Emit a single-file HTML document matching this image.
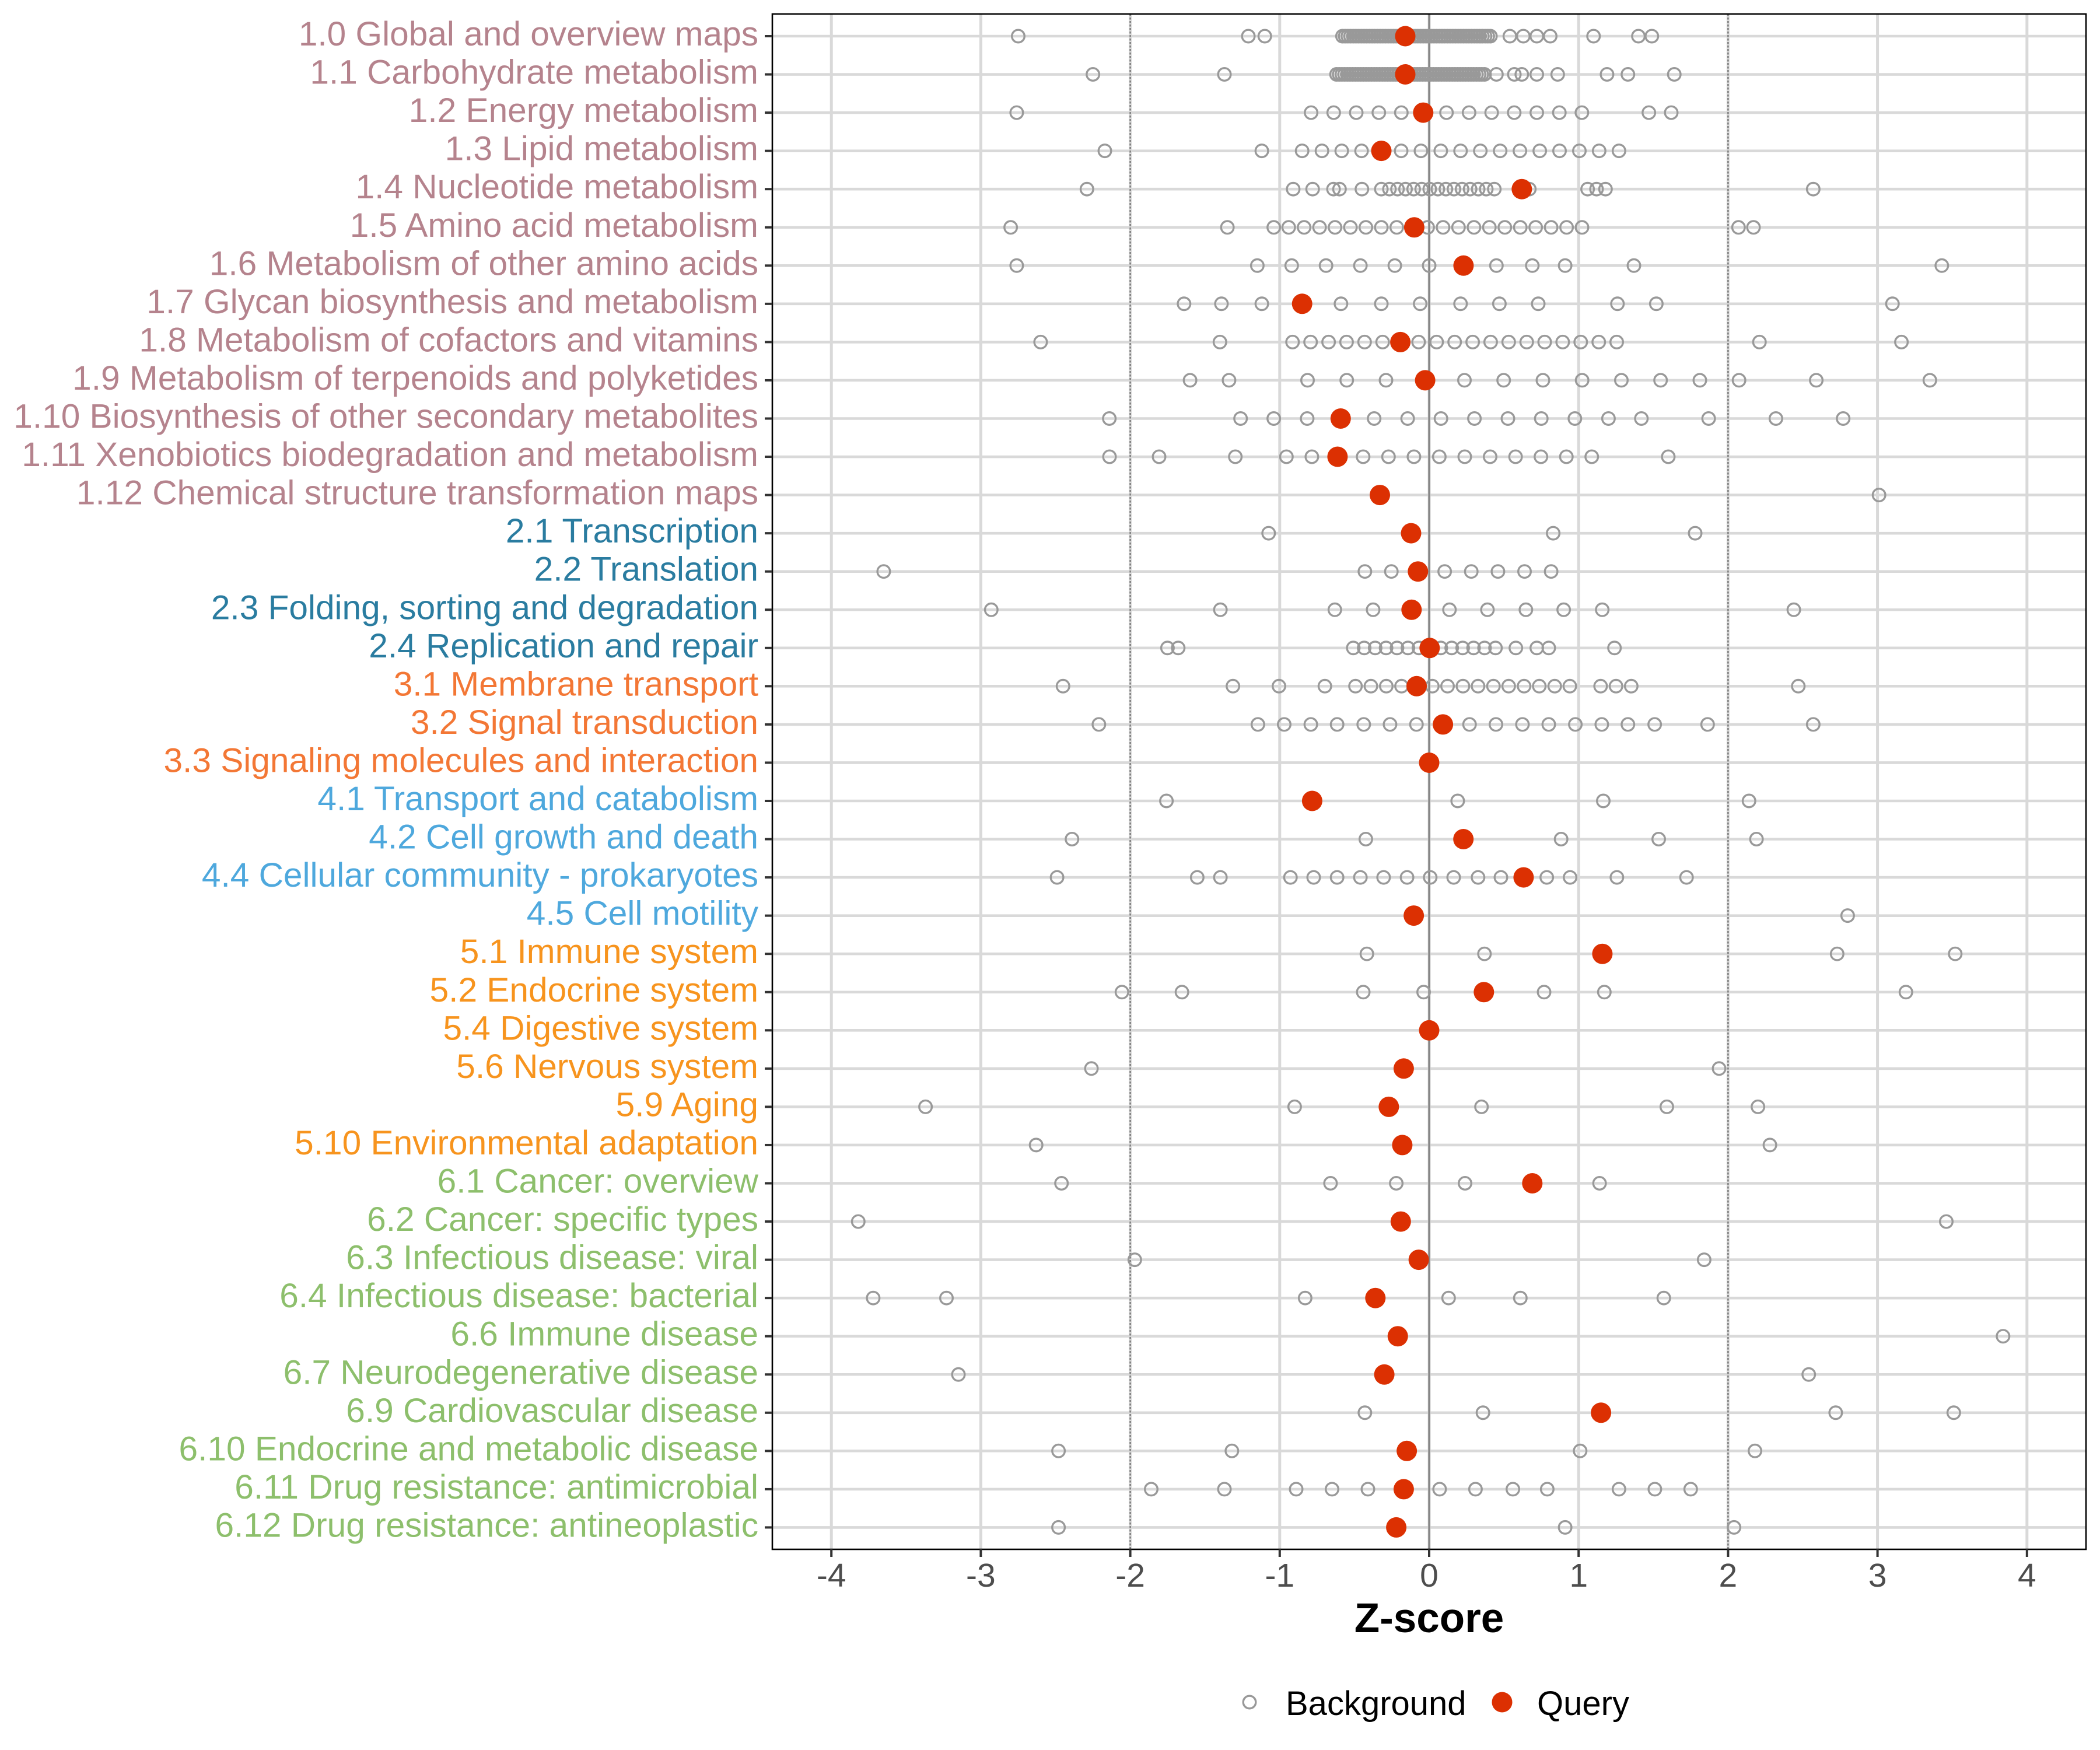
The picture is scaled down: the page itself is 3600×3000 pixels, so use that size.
<!DOCTYPE html>
<html>
<head>
<meta charset="utf-8">
<style>
html,body{margin:0;padding:0;background:#fff;}
svg{display:block;}
.yl{font-family:"Liberation Sans",Arial,sans-serif;font-size:58.6px;text-anchor:end;}
.c1{fill:#B5838D}.c2{fill:#2A7CA0}.c3{fill:#F37735}.c4{fill:#4EA8DD}.c5{fill:#F7941E}.c6{fill:#8DBF6C}
.xt{font-family:"Liberation Sans",Arial,sans-serif;font-size:57px;fill:#4D4D4D;text-anchor:middle;}
</style>
</head>
<body>
<svg id="s" width="3600" height="3000" viewBox="0 0 3600 3000" xmlns="http://www.w3.org/2000/svg">
<rect x="0" y="0" width="3600" height="3000" fill="#fff"/>
<g id="grid"></g>
<g id="pts"></g>
<rect x="1324" y="24" width="2252" height="2632" fill="none" stroke="#000" stroke-width="2.6"/>
<g id="ticks"></g>

<g>
<text class="yl c1" x="1300" y="78">1.0 Global and overview maps</text>
<text class="yl c1" x="1300" y="143.6">1.1 Carbohydrate metabolism</text>
<text class="yl c1" x="1300" y="209.1">1.2 Energy metabolism</text>
<text class="yl c1" x="1300" y="274.7">1.3 Lipid metabolism</text>
<text class="yl c1" x="1300" y="340.2">1.4 Nucleotide metabolism</text>
<text class="yl c1" x="1300" y="405.8">1.5 Amino acid metabolism</text>
<text class="yl c1" x="1300" y="471.3">1.6 Metabolism of other amino acids</text>
<text class="yl c1" x="1300" y="536.9">1.7 Glycan biosynthesis and metabolism</text>
<text class="yl c1" x="1300" y="602.4">1.8 Metabolism of cofactors and vitamins</text>
<text class="yl c1" x="1300" y="668">1.9 Metabolism of terpenoids and polyketides</text>
<text class="yl c1" x="1300" y="733.5">1.10 Biosynthesis of other secondary metabolites</text>
<text class="yl c1" x="1300" y="799.1">1.11 Xenobiotics biodegradation and metabolism</text>
<text class="yl c1" x="1300" y="864.6">1.12 Chemical structure transformation maps</text>
<text class="yl c2" x="1300" y="930.2">2.1 Transcription</text>
<text class="yl c2" x="1300" y="995.7">2.2 Translation</text>
<text class="yl c2" x="1300" y="1061.3">2.3 Folding, sorting and degradation</text>
<text class="yl c2" x="1300" y="1126.8">2.4 Replication and repair</text>
<text class="yl c3" x="1300" y="1192.4">3.1 Membrane transport</text>
<text class="yl c3" x="1300" y="1257.9">3.2 Signal transduction</text>
<text class="yl c3" x="1300" y="1323.5">3.3 Signaling molecules and interaction</text>
<text class="yl c4" x="1300" y="1389">4.1 Transport and catabolism</text>
<text class="yl c4" x="1300" y="1454.6">4.2 Cell growth and death</text>
<text class="yl c4" x="1300" y="1520.1">4.4 Cellular community - prokaryotes</text>
<text class="yl c4" x="1300" y="1585.7">4.5 Cell motility</text>
<text class="yl c5" x="1300" y="1651.2">5.1 Immune system</text>
<text class="yl c5" x="1300" y="1716.8">5.2 Endocrine system</text>
<text class="yl c5" x="1300" y="1782.3">5.4 Digestive system</text>
<text class="yl c5" x="1300" y="1847.9">5.6 Nervous system</text>
<text class="yl c5" x="1300" y="1913.4">5.9 Aging</text>
<text class="yl c5" x="1300" y="1979">5.10 Environmental adaptation</text>
<text class="yl c6" x="1300" y="2044.5">6.1 Cancer: overview</text>
<text class="yl c6" x="1300" y="2110.1">6.2 Cancer: specific types</text>
<text class="yl c6" x="1300" y="2175.6">6.3 Infectious disease: viral</text>
<text class="yl c6" x="1300" y="2241.2">6.4 Infectious disease: bacterial</text>
<text class="yl c6" x="1300" y="2306.7">6.6 Immune disease</text>
<text class="yl c6" x="1300" y="2372.3">6.7 Neurodegenerative disease</text>
<text class="yl c6" x="1300" y="2437.8">6.9 Cardiovascular disease</text>
<text class="yl c6" x="1300" y="2503.4">6.10 Endocrine and metabolic disease</text>
<text class="yl c6" x="1300" y="2568.9">6.11 Drug resistance: antimicrobial</text>
<text class="yl c6" x="1300" y="2634.5">6.12 Drug resistance: antineoplastic</text>
</g>

<g>
<text class="xt" x="1425.2" y="2720">-4</text>
<text class="xt" x="1681.4" y="2720">-3</text>
<text class="xt" x="1937.6" y="2720">-2</text>
<text class="xt" x="2193.8" y="2720">-1</text>
<text class="xt" x="2450" y="2720">0</text>
<text class="xt" x="2706.2" y="2720">1</text>
<text class="xt" x="2962.4" y="2720">2</text>
<text class="xt" x="3218.6" y="2720">3</text>
<text class="xt" x="3474.8" y="2720">4</text>
</g>

<text x="2450" y="2798" text-anchor="middle" font-family="Liberation Sans, Arial, sans-serif" font-weight="bold" font-size="71" fill="#000">Z-score</text>

<circle cx="2142" cy="2918" r="10.8" fill="none" stroke="#999999" stroke-width="3.4"/>
<text x="2204" y="2940" font-family="Liberation Sans, Arial, sans-serif" font-size="58" fill="#000">Background</text>
<circle cx="2575" cy="2918" r="17.5" fill="#DC3002"/>
<text x="2635" y="2940" font-family="Liberation Sans, Arial, sans-serif" font-size="58" fill="#000">Query</text>
</svg>

<script>
(function(){
var NS="http://www.w3.org/2000/svg";
var X0=2450,U=256.2,L=1324,R=3576,T=24,B=2656;
function X(z){return X0+U*z;}
function Y(i){return 62+65.55*i;}
function el(tag,attrs,parent){var e=document.createElementNS(NS,tag);for(var k in attrs)e.setAttribute(k,attrs[k]);parent.appendChild(e);return e;}
function seq(a,st,n){var r=[];for(var k=0;k<n;k++)r.push(+(a+k*st).toFixed(4));return r;}
function rng(a,b,st){var r=[];for(var v=a;v<=b+1e-9;v+=st)r.push(v);return r;}
var g=document.getElementById('grid'),p=document.getElementById('pts'),tk=document.getElementById('ticks');
var i;
for(i=0;i<40;i++){el('line',{x1:L,x2:R,y1:Y(i),y2:Y(i),stroke:'#D9D9D9','stroke-width':4.6},g);}
for(var k=-4;k<=4;k++){el('line',{x1:X(k),x2:X(k),y1:T,y2:B,stroke:'#D9D9D9','stroke-width':5},g);}
el('line',{x1:X(-2),x2:X(-2),y1:T,y2:B,stroke:'#7F7F7F','stroke-width':2.6,'stroke-dasharray':'3.5 2.5'},g);
el('line',{x1:X(2),x2:X(2),y1:T,y2:B,stroke:'#7F7F7F','stroke-width':2.6,'stroke-dasharray':'3.5 2.5'},g);
el('line',{x1:X(0),x2:X(0),y1:T,y2:B,stroke:'#858585','stroke-width':3.2},g);
for(i=0;i<40;i++){el('line',{x1:1311,x2:L,y1:Y(i),y2:Y(i),stroke:'#333','stroke-width':4},tk);}
for(k=-4;k<=4;k++){el('line',{x1:X(k),x2:X(k),y1:B,y2:2669,stroke:'#333','stroke-width':4},tk);}

var bg=[
[-2.75,-1.21,-1.10].concat(rng(-0.58,0.41,0.018),[0.54,0.63,0.72,0.81,1.10,1.40,1.49]),
[-2.25,-1.37].concat(rng(-0.62,0.38,0.018),[0.45,0.57,0.62,0.72,0.86,1.19,1.33,1.64]),
[-2.76].concat(seq(-0.79,0.151,13),[1.47,1.62]),
[-2.17,-1.12].concat(seq(-0.85,0.1325,17)),
[-2.29,-0.91,-0.78,-0.64,-0.60,-0.45].concat(seq(-0.32,0.054,15),[0.67,1.06,1.12,1.18,2.57]),
[-2.80,-1.35,-1.04].concat(seq(-0.94,0.1033,20),[2.07,2.17]),
[-2.76,-1.15,-0.92,-0.69,-0.46,-0.23,0,0.45,0.69,0.91,1.37,3.43],
[-1.64,-1.39,-1.12,-0.59,-0.32,-0.06,0.21,0.47,0.73,1.26,1.52,3.10],
[-2.60,-1.40].concat(seq(-0.914,0.1205,19),[2.21,3.16]),
[-1.60,-1.339].concat(seq(-0.814,0.2625,12),[2.59,3.35]),
[-2.14,-1.262,-1.04,-0.816,-0.592,-0.368,-0.144,0.079,0.303,0.527,0.75,0.975,1.2,1.42,1.87,2.32,2.77],
[-2.139,-1.807,-1.297,-0.955,-0.785,-0.613,-0.442,-0.272,-0.102,0.068,0.238,0.408,0.578,0.748,0.918,1.088,1.60],
[3.01],
[-1.074,0.83,1.78],
[-3.65,-0.43,-0.253,0.104,0.282,0.46,0.638,0.816],
[-2.93,-1.397,-0.631,-0.375,0.136,0.39,0.647,0.90,1.158,2.44],
[-1.751,-1.679].concat(seq(-0.508,0.0732,14),[0.58,0.72,0.80,1.24]),
[-2.45,-1.313,-1.005,-0.698,-0.493,-0.39,-0.287,-0.185,0.021,0.123,0.226,0.327,0.43,0.532,0.635,0.737,0.84,0.941,1.147,1.25,1.352,2.47],
[-2.21,-1.146,-0.97,-0.792,-0.616,-0.438,-0.262,-0.085,0.27,0.447,0.624,0.80,0.978,1.155,1.33,1.509,1.863,2.57],
[],
[-1.758,0.191,1.165,2.14],
[-2.39,-0.424,0.883,1.536,2.19],
[-2.49,-1.552,-1.397,-0.928,-0.773,-0.616,-0.46,-0.305,-0.148,0.007,0.164,0.327,0.48,0.787,0.943,1.256,1.722],
[2.80],
[-0.417,0.37,2.73,3.52],
[-2.056,-1.654,-0.441,-0.037,0.769,1.172,3.19],
[],
[-2.26,1.94],
[-3.37,-0.90,0.35,1.59,2.20],
[-2.63,2.28],
[-2.46,-0.66,-0.22,0.24,1.14],
[-3.82,3.46],
[-1.97,1.84],
[-3.72,-3.23,-0.83,0.13,0.61,1.57],
[3.84],
[-3.15,2.54],
[-0.43,0.36,2.72,3.51],
[-2.48,-1.32,1.01,2.18],
[-1.86,-1.37,-0.89,-0.65,-0.41,0.07,0.31,0.56,0.79,1.27,1.51,1.75],
[-2.48,0.91,2.04]
];
var q=[-0.16,-0.16,-0.04,-0.32,0.62,-0.10,0.23,-0.85,-0.193,-0.027,-0.592,-0.613,-0.33,-0.121,-0.075,-0.118,0.003,-0.084,0.092,0.0,
-0.783,0.229,0.632,-0.103,1.159,0.366,0.0,-0.17,-0.27,-0.18,0.69,-0.19,-0.07,-0.36,-0.21,-0.30,1.15,-0.15,-0.17,-0.22];
for(i=0;i<40;i++){
  var row=bg[i];
  for(var j=0;j<row.length;j++){
    el('circle',{cx:X(row[j]).toFixed(1),cy:Y(i).toFixed(1),r:10.8,fill:'none',stroke:'#999999','stroke-width':3.4},p);
  }
}
for(i=0;i<40;i++){
  el('circle',{cx:X(q[i]).toFixed(1),cy:Y(i).toFixed(1),r:17.5,fill:'#DC3002'},p);
}
})();
</script>
</body>
</html>
